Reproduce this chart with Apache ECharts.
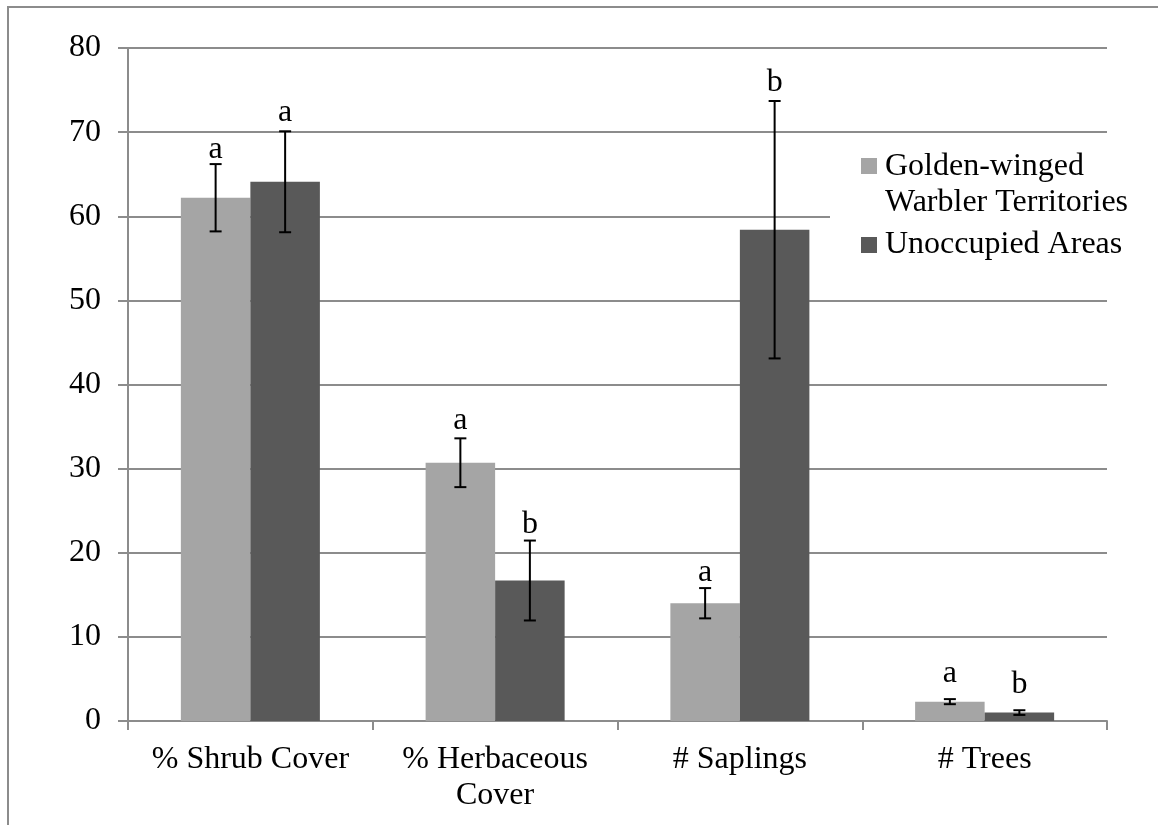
<!DOCTYPE html>
<html>
<head>
<meta charset="utf-8">
<title>Vegetation structure: Golden-winged Warbler territories vs unoccupied areas</title>
<script src="https://cdn.jsdelivr.net/npm/echarts@6/dist/echarts.min.js"></script>
<style>
  html, body { margin: 0; padding: 0; background: #fff; }
  #chart { width: 1158px; height: 825px; }
</style>
</head>
<body>
<div id="chart"></div>
<script>
// Habitat variables on the category axis
const categories = ['% Shrub Cover', '% Herbaceous\nCover', '# Saplings', '# Trees'];
const seriesNames = ['Golden-winged Warbler Territories', 'Unoccupied Areas'];

// Means and error-bar half-widths for each group
const territoryMeans = [62.2, 30.7, 14.0, 2.3];
const territoryErrors = [4.0, 2.9, 1.8, 0.3];
const unoccupiedMeans = [64.1, 16.7, 58.4, 1.0];
const unoccupiedErrors = [6.0, 4.75, 15.3, 0.28];

// Significance letters and the level (axis units) of each letter's baseline
const territoryLetters = ['a', 'a', 'a', 'a'];
const unoccupiedLetters = ['a', 'b', 'b', 'b'];
const territoryLetterLevels = [66.95, 34.67, 16.6, 4.57];
const unoccupiedLetterLevels = [71.27, 22.33, 74.9, 3.26];

// Y axis ticks
const yMin = 0, yMax = 80, yStep = 10;

const FONT = '"Liberation Serif", "Times New Roman", serif';
const GRID_GREY = '#8c8c8c';
const BAR_SHARE = 0.284;           // each bar's share of a category band
const LIGHT = '#a5a5a5', DARK = '#595959';
const BASELINE_TO_MIDDLE = 8.5;    // px between a 32px letter's baseline and its middle

function errorSeries(name, means, errors, letters, levels, side) {
  return {
    type: 'custom',
    name: name + ' error',
    z: 5,
    silent: true,
    data: means.map((m, i) => [i, m - errors[i], m + errors[i], levels[i]]),
    renderItem: function (params, api) {
      const i = api.value(0);
      const band = api.size([1, 0])[0];
      const dx = side * band * BAR_SHARE / 2;
      const lo = api.coord([i, api.value(1)]);
      const hi = api.coord([i, api.value(2)]);
      const lev = api.coord([i, api.value(3)]);
      const x = lo[0] + dx;
      const cap = 6;
      const lineStyle = { stroke: '#000', lineWidth: 2 };
      return {
        type: 'group',
        children: [
          { type: 'line', shape: { x1: x, y1: lo[1], x2: x, y2: hi[1] }, style: lineStyle },
          { type: 'line', shape: { x1: x - cap, y1: lo[1], x2: x + cap, y2: lo[1] }, style: lineStyle },
          { type: 'line', shape: { x1: x - cap, y1: hi[1], x2: x + cap, y2: hi[1] }, style: lineStyle },
          {
            type: 'text',
            style: {
              text: letters[params.dataIndex],
              x: x,
              y: lev[1] - BASELINE_TO_MIDDLE,
              align: 'center',
              verticalAlign: 'middle',
              fontFamily: FONT,
              fontSize: 32,
              fill: '#000'
            }
          }
        ]
      };
    }
  };
}

const chart = echarts.init(document.getElementById('chart'), null, { renderer: 'canvas' });

chart.setOption({
  animation: false,
  backgroundColor: '#fff',
  textStyle: { fontFamily: FONT, color: '#000' },
  grid: { left: 128, right: 51, top: 48, bottom: 104, containLabel: false },
  graphic: [{
    type: 'rect',
    silent: true,
    z: -1,
    shape: { x: 8, y: 7, width: 1400, height: 1000 },
    style: { fill: 'none', stroke: GRID_GREY, lineWidth: 2 }
  }],
  legend: [
    {
      data: [{
        name: seriesNames[0],
        icon: 'path://M0,0h0.01M0,9h16v16h-16zM0,72h0.01'
      }],
      orient: 'vertical',
      left: 830,
      top: 144,
      padding: [5, 10, 2, 31],
      itemWidth: 16,
      itemHeight: 72,
      itemGap: 0,
      selectedMode: false,
      backgroundColor: '#fff',
      formatter: n => n.replace('winged ', 'winged\n'),
      textStyle: { fontFamily: FONT, fontSize: 32, lineHeight: 36, color: '#000', padding: [0, 0, 0, 3] }
    },
    {
      data: [{ name: seriesNames[1], icon: 'rect' }],
      orient: 'vertical',
      left: 830,
      top: 223,
      padding: [0, 10, 0, 31],
      itemWidth: 16,
      itemHeight: 16,
      selectedMode: false,
      textStyle: { fontFamily: FONT, fontSize: 32, lineHeight: 36, color: '#000', padding: [0, 0, 8, 3] }
    }
  ],
  xAxis: {
    type: 'category',
    data: categories,
    boundaryGap: true,
    axisLine: { show: true, lineStyle: { color: GRID_GREY, width: 2 } },
    axisTick: { show: true, length: 9, alignWithLabel: false, lineStyle: { color: GRID_GREY, width: 2 } },
    axisLabel: {
      interval: 0,
      margin: 21,
      fontFamily: FONT,
      fontSize: 32,
      lineHeight: 36,
      color: '#000'
    },
    splitLine: { show: false }
  },
  yAxis: {
    type: 'value',
    min: yMin,
    max: yMax,
    interval: yStep,
    axisLine: { show: true, lineStyle: { color: GRID_GREY, width: 2 } },
    axisTick: { show: true, length: 10, lineStyle: { color: GRID_GREY, width: 2 } },
    axisLabel: { margin: 27, fontFamily: FONT, fontSize: 32, color: '#000' },
    splitLine: { show: true, lineStyle: { color: GRID_GREY, width: 2 } }
  },
  series: [
    {
      type: 'bar',
      name: seriesNames[0],
      data: territoryMeans,
      barWidth: (BAR_SHARE * 100) + '%',
      barGap: '0%',
      itemStyle: { color: LIGHT },
      silent: true
    },
    {
      type: 'bar',
      name: seriesNames[1],
      data: unoccupiedMeans,
      barWidth: (BAR_SHARE * 100) + '%',
      barGap: '0%',
      itemStyle: { color: DARK },
      silent: true
    },
    errorSeries(seriesNames[0], territoryMeans, territoryErrors, territoryLetters, territoryLetterLevels, -1),
    errorSeries(seriesNames[1], unoccupiedMeans, unoccupiedErrors, unoccupiedLetters, unoccupiedLetterLevels, 1)
  ]
});
</script>
</body>
</html>
